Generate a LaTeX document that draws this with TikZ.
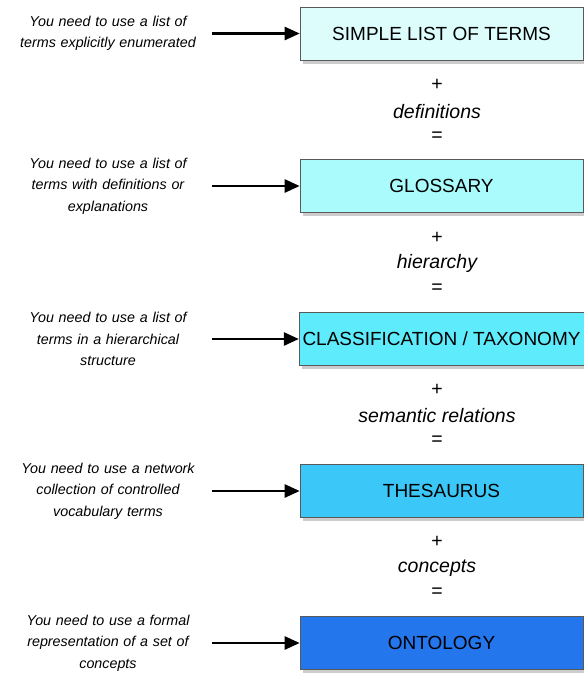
\documentclass[tikz,border=0pt]{standalone}
\usepackage{fontspec}
\setmainfont{Liberation Sans}
\usetikzlibrary{arrows.meta, positioning, shadows}

\definecolor{termcol}{HTML}{DDFDFD}
\definecolor{glosscol}{HTML}{A9FBFC}
\definecolor{classcol}{HTML}{5EEBFB}
\definecolor{thescol}{HTML}{3BC7F8}
\definecolor{ontocol}{HTML}{2476EC}

\begin{document}
\begin{tikzpicture}[x=1pt, y=-1pt,
  level/.style={draw=black!65, line width=0.6pt, minimum width=283pt, minimum height=53pt,
    font=\fontsize{19}{22}\selectfont, drop shadow={shadow xshift=2.5pt, shadow yshift=-3.5pt, opacity=0.4}},
  need/.style={text width=208pt, inner sep=0pt, align=center,
    font=\fontsize{14.3}{21.5}\selectfont\itshape},
  plus/.style={font=\fontsize{19.5}{22}\selectfont}]
  \useasboundingbox (0,0) rectangle (584,673);

  % boxes and what each one is for
  \node[level, fill=termcol]  (b1) at (441.5, 33.5)  {SIMPLE LIST OF TERMS};
  \node[level, fill=glosscol] (b2) at (441.5, 186) {GLOSSARY};
  \node[level, fill=classcol] (b3) at (441.5, 339) {CLASSIFICATION / TAXONOMY};
  \node[level, fill=thescol]  (b4) at (441.5, 491) {THESAURUS};
  \node[level, fill=ontocol]  (b5) at (441.5, 643) {ONTOLOGY};

  \node[need] (l1) at (108, 33.5)  {You need to use a list of\\terms explicitly enumerated};
  \node[need] (l2) at (108, 186) {You need to use a list of\\terms with definitions or\\explanations};
  \node[need] (l3) at (108, 339) {You need to use a list of\\terms in a hierarchical\\structure};
  \node[need] (l4) at (108, 491) {You need to use a network\\collection of controlled\\vocabulary terms};
  \node[need] (l5) at (108, 643) {You need to use a formal\\representation of a set of\\concepts};

  \foreach \i in {1,...,5} {
    \draw[-{Triangle[length=15pt, width=13pt]}, line width=2.5pt] (l\i.east) -- (b\i.west);
  }

  % what is added between two levels
  \foreach \i/\what in {1/definitions, 2/hierarchy, 3/semantic relations, 4/concepts} {
    \node[plus] (p\i) at (437, 34 + 152.3*\i - 101) {+};
    \node[plus, font=\fontsize{19.5}{22}\selectfont\itshape] (w\i) at (437, 34 + 152.3*\i - 75) {\what};
    \node[plus] (e\i) at (437, 34 + 152.3*\i - 50) {=};
  }
\end{tikzpicture}
\end{document}
